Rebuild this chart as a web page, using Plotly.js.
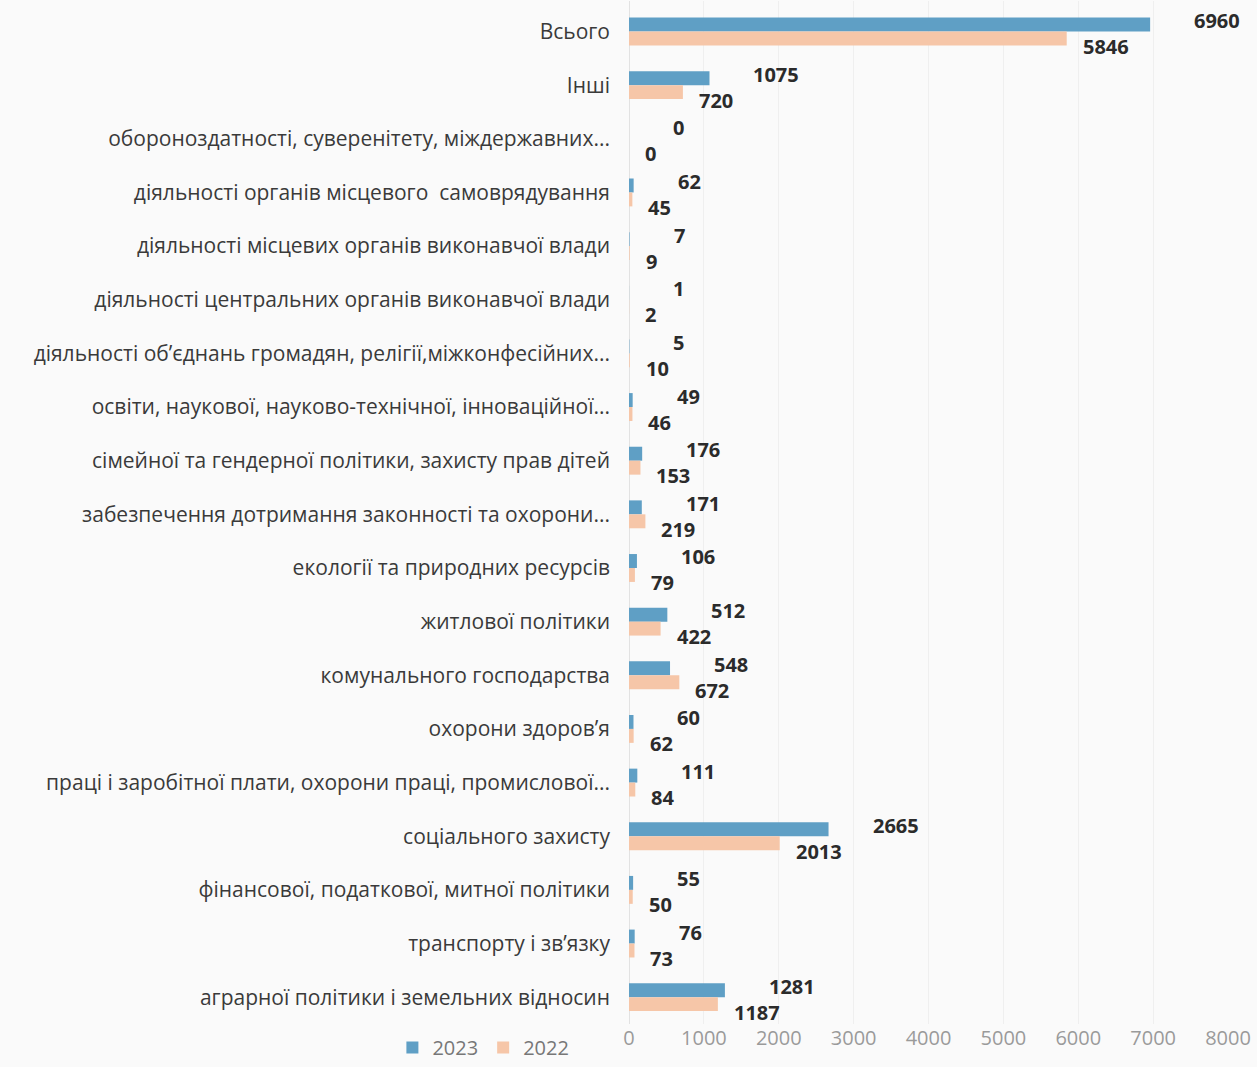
<!DOCTYPE html>
<html><head><meta charset="utf-8">
<script src="https://cdn.plot.ly/plotly-3.0.1.min.js"></script>
<style>html,body{margin:0;padding:0;background:#fafafa;}#chart{width:1257px;height:1067px;}</style>
</head><body><div id="chart"></div>
<script>
const categories = [
  "Всього",
  "Інші",
  "обороноздатності, суверенітету, міждержавних...",
  "діяльності органів місцевого  самоврядування",
  "діяльності місцевих органів виконавчої влади",
  "діяльності центральних органів виконавчої влади",
  "діяльності об’єднань громадян, релігії,міжконфесійних...",
  "освіти, наукової, науково-технічної, інноваційної...",
  "сімейної та гендерної політики, захисту прав дітей",
  "забезпечення дотримання законності та охорони...",
  "екології та природних ресурсів",
  "житлової політики",
  "комунального господарства",
  "охорони здоров’я",
  "праці і заробітної плати, охорони праці, промислової...",
  "соціального захисту",
  "фінансової, податкової, митної політики",
  "транспорту і зв’язку",
  "аграрної політики і земельних відносин"
];
const values2023 = [6960, 1075, 0, 62, 7, 1, 5, 49, 176, 171, 106, 512, 548, 60, 111, 2665, 55, 76, 1281];
const values2022 = [5846, 720, 0, 45, 9, 2, 10, 46, 153, 219, 79, 422, 672, 62, 84, 2013, 50, 73, 1187];
const seriesNames = ["2023", "2022"];
const xTicks = [0, 1000, 2000, 3000, 4000, 5000, 6000, 7000, 8000];

const labelFont = {family: "'Open Sans', Lato, sans-serif", size: 20, color: "#2b2b2b"};
const annotations = [];
categories.forEach((c, i) => {
  annotations.push({x: values2023[i], y: c, xref: "x", yref: "y", text: "<b>" + values2023[i] + "</b>",
    showarrow: false, xanchor: "left", yanchor: "middle", xshift: 42, yshift: 11, font: labelFont});
  annotations.push({x: values2022[i], y: c, xref: "x", yref: "y", text: "<b>" + values2022[i] + "</b>",
    showarrow: false, xanchor: "left", yanchor: "middle", xshift: 14, yshift: -15, font: labelFont});
});

const traces = [
  {type: "bar", orientation: "h", name: seriesNames[0], y: categories, x: values2023,
   marker: {color: "#5f9fc5"}, hoverinfo: "x"},
  {type: "bar", orientation: "h", name: seriesNames[1], y: categories, x: values2022,
   marker: {color: "#f6c6a8"}, hoverinfo: "x"}
];

const layout = {
  width: 1257, height: 1067,
  margin: {l: 629, r: 29, t: 1, b: 42},
  paper_bgcolor: "#fafafa", plot_bgcolor: "#fafafa",
  barmode: "group", bargap: 0.48, bargroupgap: 0,
  font: {family: "'Open Sans', Lato, sans-serif"},
  xaxis: {range: [0, 8000], tickvals: xTicks, ticktext: xTicks.map(String),
    tickfont: {size: 20, color: "#9a9a9a"}, showgrid: true, gridcolor: "#efefef",
    zeroline: true, zerolinecolor: "#e2e2e2", showline: false, fixedrange: true},
  yaxis: {autorange: "reversed", type: "category", tickfont: {size: 21, color: "#3a3a3a"},
    ticklabelstandoff: 18, showline: false, ticks: "", fixedrange: true},
  showlegend: true,
  legend: {orientation: "h", x: -0.395, y: -0.022, xanchor: "left", yanchor: "middle",
    traceorder: "normal", bgcolor: "rgba(0,0,0,0)", font: {size: 20, color: "#777"},
    itemwidth: 30},
  annotations: annotations
};

Plotly.newPlot("chart", traces, layout, {displayModeBar: false, staticPlot: true});
</script></body></html>
